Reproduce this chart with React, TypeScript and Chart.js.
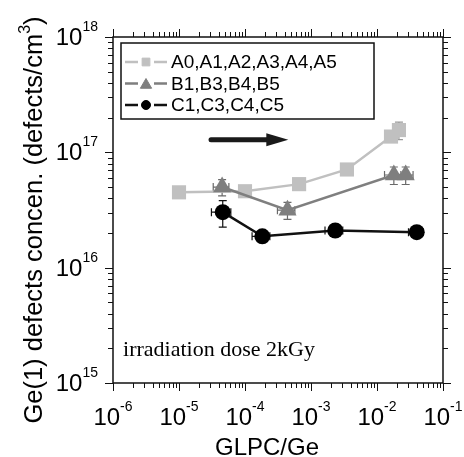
import React, { useEffect, useRef } from 'react';
import { Chart, registerables } from 'chart.js';
import { drawPoint } from 'chart.js/helpers';

Chart.register(...registerables);

// ---------- data ----------
const X_MIN = 1e-6;
const X_MAX = 1e-1;
const Y_MIN = 1e15;
const Y_MAX = 1e18;
const X_TICK_EXPONENTS = [-6, -5, -4, -3, -2, -1];
const Y_TICK_EXPONENTS = [15, 16, 17, 18];

const SERIES_LABELS = ['A0,A1,A2,A3,A4,A5', 'B1,B3,B4,B5', 'C1,C3,C4,C5'];

const A_X = [1.0e-5, 1.0e-4, 6.6e-4, 3.5e-3, 1.63e-2, 2.15e-2];
const A_Y = [4.5e16, 4.6e16, 5.3e16, 7.1e16, 1.37e17, 1.56e17];
const A_XERR = [0, 0, 0, 0, 0.3e-2, 0.4e-2];
const A_YERR = [0, 0, 0, 0, 0, 2.7e16];

const B_X = [4.5e-5, 4.4e-4, 1.8e-2, 2.72e-2];
const B_Y = [5.0e16, 3.15e16, 6.36e16, 6.36e16];
const B_XERR = [1.2e-5, 1.3e-4, 0.5e-2, 0.8e-2];
const B_YERR = [0.8e16, 0.53e16, 1.1e16, 1.1e16];

const C_X = [4.6e-5, 1.83e-4, 2.33e-3, 4.0e-2];
const C_Y = [3.03e16, 1.87e16, 2.1e16, 2.03e16];
const C_XERR = [1.5e-5, 0.55e-4, 0.7e-3, 1.0e-2];
const C_YERR = [0.78e16, 0, 0, 0];

const X_TITLE = 'GLPC/Ge';
const Y_TITLE_MAIN = 'Ge(1) defects concen. (defects/cm';
const Y_TITLE_SUP = '3';
const Y_TITLE_END = ')';
const NOTE_TEXT = 'irradiation dose 2kGy';
const NOTE_POS = [1.42e-6, 1.72e15];
const ARROW_FROM = [2.85e-5, 1.285e17];
const ARROW_TO = [4.53e-4, 1.285e17];

// ---------- styles ----------
const SANS = '"Liberation Sans", Arial, Helvetica, sans-serif';
const SERIF = '"Liberation Serif", "Times New Roman", serif';

function toPoints(xs: number[], ys: number[], xe: number[], ye: number[]) {
  return xs.map((x, i) => ({ x, y: ys[i], xErr: xe[i], yErr: ye[i] }));
}

const errorBarPlugin = {
  id: 'errorBars',
  beforeDatasetsDraw(chart: any) {
    const ctx = chart.ctx;
    const xs = chart.scales.x;
    const ys = chart.scales.y;
    chart.data.datasets.forEach((ds: any) => {
      ctx.save();
      ctx.strokeStyle = ds.errColor;
      ctx.lineWidth = 1.2;
      ds.data.forEach((p: any) => {
        const px = xs.getPixelForValue(p.x);
        const py = ys.getPixelForValue(p.y);
        if (p.yErr > 0) {
          const t = ys.getPixelForValue(p.y + p.yErr);
          const b = ys.getPixelForValue(Math.max(p.y - p.yErr, Y_MIN));
          ctx.beginPath();
          ctx.moveTo(px, t); ctx.lineTo(px, b);
          ctx.moveTo(px - 4, t); ctx.lineTo(px + 4, t);
          ctx.moveTo(px - 4, b); ctx.lineTo(px + 4, b);
          ctx.stroke();
        }
        if (p.xErr > 0) {
          const l = xs.getPixelForValue(Math.max(p.x - p.xErr, X_MIN));
          const r = xs.getPixelForValue(p.x + p.xErr);
          ctx.beginPath();
          ctx.moveTo(l, py); ctx.lineTo(r, py);
          ctx.moveTo(l, py - 4); ctx.lineTo(l, py + 4);
          ctx.moveTo(r, py - 4); ctx.lineTo(r, py + 4);
          ctx.stroke();
        }
      });
      ctx.restore();
    });
  },
};

function drawPow(ctx: CanvasRenderingContext2D, exp: number, x: number, y: number, align: 'center' | 'right') {
  const base = '10';
  const sup = String(exp);
  ctx.font = `24px ${SANS}`;
  const wb = ctx.measureText(base).width;
  ctx.font = `14px ${SANS}`;
  const ws = ctx.measureText(sup).width;
  const total = wb + ws;
  const start = align === 'center' ? x - total / 2 : x - total;
  ctx.textAlign = 'left';
  ctx.textBaseline = 'alphabetic';
  ctx.font = `24px ${SANS}`;
  ctx.fillText(base, start, y);
  ctx.font = `14px ${SANS}`;
  ctx.fillText(sup, start + wb, y - 14);
}

const framePlugin = {
  id: 'frame',
  afterDraw(chart: any) {
    const ctx: CanvasRenderingContext2D = chart.ctx;
    const { left: L, right: R, top: T, bottom: B } = chart.chartArea;
    const xs = chart.scales.x;
    const ys = chart.scales.y;
    ctx.save();
    ctx.fillStyle = '#000';
    ctx.strokeStyle = '#111';

    // frame
    ctx.lineWidth = 1.5;
    ctx.strokeRect(L, T, R - L, B - T);

    // ticks
    ctx.lineWidth = 1;
    ctx.beginPath();
    for (let e = X_TICK_EXPONENTS[0]; e <= X_TICK_EXPONENTS[X_TICK_EXPONENTS.length - 1]; e++) {
      for (let k = 1; k <= 9; k++) {
        const v = k * Math.pow(10, e);
        if (v > X_MAX * 1.0001) break;
        const px = Math.round(xs.getPixelForValue(v)) + 0.5;
        const len = k === 1 ? 8 : 5;
        ctx.moveTo(px, B); ctx.lineTo(px, B + len);
        ctx.moveTo(px, T); ctx.lineTo(px, T - len);
      }
    }
    for (let e = Y_TICK_EXPONENTS[0]; e <= Y_TICK_EXPONENTS[Y_TICK_EXPONENTS.length - 1]; e++) {
      for (let k = 1; k <= 9; k++) {
        const v = k * Math.pow(10, e);
        if (v > Y_MAX * 1.0001) break;
        const py = Math.round(ys.getPixelForValue(v)) + 0.5;
        const len = k === 1 ? 8 : 5;
        ctx.moveTo(L, py); ctx.lineTo(L - len, py);
        ctx.moveTo(R, py); ctx.lineTo(R + len, py);
      }
    }
    ctx.stroke();

    // tick labels
    X_TICK_EXPONENTS.forEach((e) => {
      drawPow(ctx, e, xs.getPixelForValue(Math.pow(10, e)), B + 42, 'center');
    });
    Y_TICK_EXPONENTS.forEach((e) => {
      drawPow(ctx, e, L - 15, ys.getPixelForValue(Math.pow(10, e)) + 8, 'right');
    });

    // x title
    ctx.font = `24px ${SANS}`;
    ctx.textAlign = 'center';
    ctx.textBaseline = 'alphabetic';
    ctx.fillText(X_TITLE, 267, 455);

    // y title
    ctx.save();
    ctx.translate(42, 220);
    ctx.rotate(-Math.PI / 2);
    ctx.font = `25.5px ${SANS}`;
    const w1 = ctx.measureText(Y_TITLE_MAIN).width;
    const w3 = ctx.measureText(Y_TITLE_END).width;
    ctx.font = `16px ${SANS}`;
    const w2 = ctx.measureText(Y_TITLE_SUP).width;
    const total = w1 + w2 + w3;
    let cx = -total / 2;
    ctx.textAlign = 'left';
    ctx.font = `25.5px ${SANS}`;
    ctx.fillText(Y_TITLE_MAIN, cx, 0);
    cx += w1;
    ctx.font = `16px ${SANS}`;
    ctx.fillText(Y_TITLE_SUP, cx, -12);
    cx += w2;
    ctx.font = `25.5px ${SANS}`;
    ctx.fillText(Y_TITLE_END, cx, 0);
    ctx.restore();

    // note
    ctx.font = `22px ${SERIF}`;
    ctx.textAlign = 'left';
    ctx.fillText(NOTE_TEXT, xs.getPixelForValue(NOTE_POS[0]), ys.getPixelForValue(NOTE_POS[1]));

    // arrow
    const ax0 = xs.getPixelForValue(ARROW_FROM[0]);
    const ay0 = ys.getPixelForValue(ARROW_FROM[1]);
    const ax1 = xs.getPixelForValue(ARROW_TO[0]);
    const ay1 = ys.getPixelForValue(ARROW_TO[1]);
    const headLen = 22;
    ctx.strokeStyle = '#1a1a1a';
    ctx.fillStyle = '#1a1a1a';
    ctx.lineWidth = 5;
    ctx.lineCap = 'round';
    ctx.beginPath();
    ctx.moveTo(ax0 + 2, ay0);
    ctx.lineTo(ax1 - headLen + 2, ay1);
    ctx.stroke();
    ctx.beginPath();
    ctx.moveTo(ax1, ay1);
    ctx.lineTo(ax1 - headLen, ay1 - 6.5);
    ctx.lineTo(ax1 - headLen, ay1 + 6.5);
    ctx.closePath();
    ctx.fill();
    ctx.lineCap = 'butt';

    // legend
    const boxL = 121, boxT = 43, boxR = 374, boxB = 119;
    ctx.strokeStyle = '#111';
    ctx.lineWidth = 1.5;
    ctx.strokeRect(boxL, boxT, boxR - boxL, boxB - boxT);
    const rowY = [62, 83.5, 105];
    const legendRadius: Record<string, number> = { rect: 5.5, triangle: 6.5, circle: 4.5 };
    chart.data.datasets.forEach((ds: any, i: number) => {
      const y = rowY[i];
      ctx.strokeStyle = ds.borderColor;
      ctx.lineWidth = 2.5;
      ctx.beginPath();
      ctx.moveTo(125, y); ctx.lineTo(138, y);
      ctx.moveTo(154, y); ctx.lineTo(167, y);
      ctx.stroke();
      ctx.fillStyle = ds.backgroundColor;
      ctx.strokeStyle = ds.backgroundColor;
      ctx.lineWidth = 1;
      drawPoint(ctx, { pointStyle: ds.pointStyle, radius: legendRadius[ds.pointStyle], borderWidth: 1, rotation: 0 }, 146, ds.pointStyle === 'triangle' ? y + 1.5 : y);
      ctx.fillStyle = '#000';
      ctx.font = `19px ${SANS}`;
      ctx.textAlign = 'left';
      ctx.textBaseline = 'middle';
      ctx.fillText(ds.label, 171, y + 1);
    });
    ctx.restore();
  },
};

export default function App() {
  const ref = useRef<HTMLCanvasElement | null>(null);
  useEffect(() => {
    if (!ref.current) return;
    const chart = new Chart(ref.current, {
      type: 'scatter',
      data: {
        datasets: [
          {
            label: SERIES_LABELS[0],
            data: toPoints(A_X, A_Y, A_XERR, A_YERR),
            showLine: true,
            borderColor: '#c0c0c0',
            backgroundColor: '#c0c0c0',
            pointBorderColor: '#c0c0c0',
            pointBackgroundColor: '#c0c0c0',
            borderWidth: 2.5,
            pointStyle: 'rect',
            pointRadius: 10,
            pointBorderWidth: 0,
            order: 3,
            errColor: '#9a9a9a',
          } as any,
          {
            label: SERIES_LABELS[1],
            data: toPoints(B_X, B_Y, B_XERR, B_YERR),
            showLine: true,
            borderColor: '#7f7f7f',
            backgroundColor: '#7f7f7f',
            pointBorderColor: '#7f7f7f',
            pointBackgroundColor: '#7f7f7f',
            borderWidth: 2.5,
            pointStyle: 'triangle',
            pointRadius: 10.5,
            pointBorderWidth: 0,
            order: 2,
            errColor: '#6a6a6a',
          } as any,
          {
            label: SERIES_LABELS[2],
            data: toPoints(C_X, C_Y, C_XERR, C_YERR),
            showLine: true,
            borderColor: '#111111',
            backgroundColor: '#000000',
            pointBorderColor: '#000000',
            pointBackgroundColor: '#000000',
            borderWidth: 2.5,
            pointStyle: 'circle',
            pointRadius: 8,
            pointBorderWidth: 0,
            order: 1,
            errColor: '#111111',
          } as any,
        ],
      },
      options: {
        animation: false,
        responsive: false,
        devicePixelRatio: 1,
        layout: { padding: { left: 113, right: 21, top: 37, bottom: 74 } },
        plugins: { legend: { display: false }, tooltip: { enabled: false } },
        elements: { line: { tension: 0 } },
        scales: {
          x: { type: 'logarithmic', min: X_MIN, max: X_MAX, display: false },
          y: { type: 'logarithmic', min: Y_MIN, max: Y_MAX, display: false },
        },
      },
      plugins: [errorBarPlugin, framePlugin],
    });
    return () => chart.destroy();
  }, []);
  return (
    <div style={{ position: 'absolute', left: 0, top: 0, width: 464, height: 457, background: '#fff' }}>
      <canvas ref={ref} width={464} height={457} style={{ width: 464, height: 457, display: 'block' }} />
    </div>
  );
}
